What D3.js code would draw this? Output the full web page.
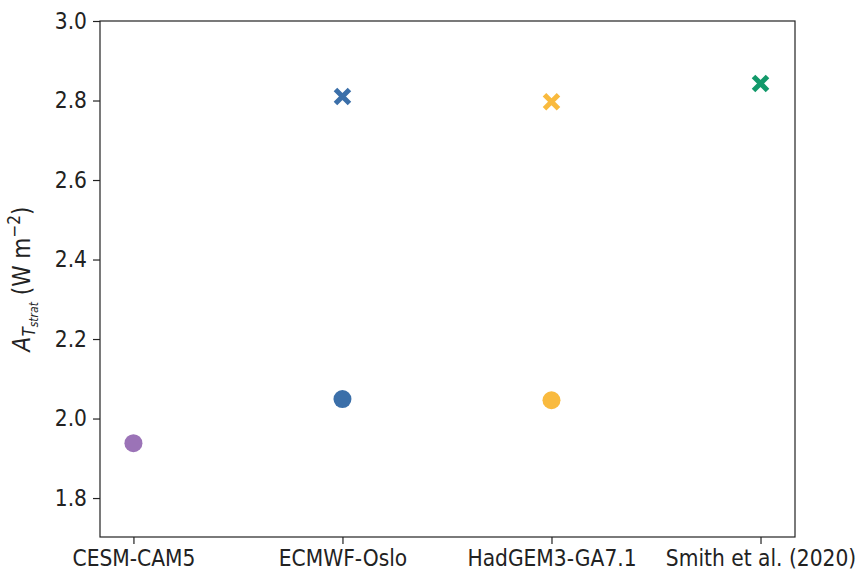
<!DOCTYPE html>
<html>
<head>
<meta charset="utf-8">
<script src="https://cdn.jsdelivr.net/npm/d3@7"></script>
<style>
body { margin: 0; background: #fff; }
text { font-family: "DejaVu Sans Condensed", "DejaVu Sans", sans-serif; font-stretch: condensed; }
</style>
</head>
<body>
<div id="chart"></div>
<script>
// data
const models = ["CESM-CAM5", "ECMWF-Oslo", "HadGEM3-GA7.1", "Smith et al. (2020)"];
const circleValues = [1.938, 2.049, 2.046, null];
const crossValues = [null, 2.81, 2.797, 2.843];
const colors = ["#9b73b7", "#3b6fa9", "#f9ba3e", "#12996a"];
const yTicks = [1.8, 2.0, 2.2, 2.4, 2.6, 2.8, 3.0];

const margin = {top: 21, right: 67, bottom: 37, left: 100},
width = 862 - margin.left - margin.right,
height = 574 - margin.top - margin.bottom;

const svg = d3.select("#chart")
.append("svg")
.attr("width", 862)
.attr("height", 574)
.append("g")
.attr("transform", `translate(${margin.left},${margin.top})`);

// categorical positions laid out like matplotlib with small margins
const x = d3.scaleLinear()
.domain([-0.16, 3.165])
.range([0, width]);

const y = d3.scaleLinear()
.domain([1.702, 3.0])
.range([height, 0]);

const xAxis = svg.append("g")
.attr("transform", `translate(0, ${height})`)
.call(d3.axisBottom(x).tickValues([0, 1, 2, 3]).tickFormat(i => models[i]).tickSize(7).tickPadding(6));

const yAxis = svg.append("g")
.call(d3.axisLeft(y).tickValues(yTicks).tickFormat(d3.format(".1f")).tickSize(7).tickPadding(6));

[xAxis, yAxis].forEach(a => {
  a.select(".domain").remove();
  a.selectAll("text").attr("font-size", 22.5).attr("fill", "#222")
   .attr("font-family", "DejaVu Sans Condensed, DejaVu Sans, sans-serif");
  a.selectAll("line").attr("stroke", "#222").attr("stroke-width", 1.2);
});

// frame
svg.append("rect")
.attr("width", width)
.attr("height", height)
.attr("fill", "none")
.attr("stroke", "#222")
.attr("stroke-width", 1.2);

// circles
svg.selectAll("circle.pt")
.data(circleValues.map((v, i) => ({v, i})).filter(d => d.v !== null))
.join("circle")
.attr("class", "pt")
.attr("cx", d => x(d.i))
.attr("cy", d => y(d.v))
.attr("r", 9)
.attr("fill", d => colors[d.i]);

// crosses
const s = 7;
const crosses = svg.selectAll("g.cross")
.data(crossValues.map((v, i) => ({v, i})).filter(d => d.v !== null))
.join("g")
.attr("class", "cross")
.attr("transform", d => `translate(${x(d.i)},${y(d.v)})`);

crosses.append("path")
.attr("d", `M${-s},${-s}L${s},${s}M${-s},${s}L${s},${-s}`)
.attr("stroke", d => colors[d.i])
.attr("stroke-width", 5)
.attr("fill", "none");

// Y axis label
const yl = svg.append("text")
.attr("text-anchor", "middle")
.attr("transform", `translate(${-margin.left + 30}, ${height / 2}) rotate(-90)`)
.attr("font-size", 24)
.attr("fill", "#222");
yl.append("tspan").attr("font-style", "italic").text("A");
yl.append("tspan").attr("font-style", "italic").attr("font-size", 17).attr("dy", 5).text("T");
yl.append("tspan").attr("font-style", "italic").attr("font-size", 12).attr("dy", 3).text("strat");
yl.append("tspan").attr("dy", -8).text("\u00a0(W m");
yl.append("tspan").attr("font-size", 17).attr("dy", -10).text("\u22122");
yl.append("tspan").attr("dy", 10).text(")");
</script>
</body>
</html>
